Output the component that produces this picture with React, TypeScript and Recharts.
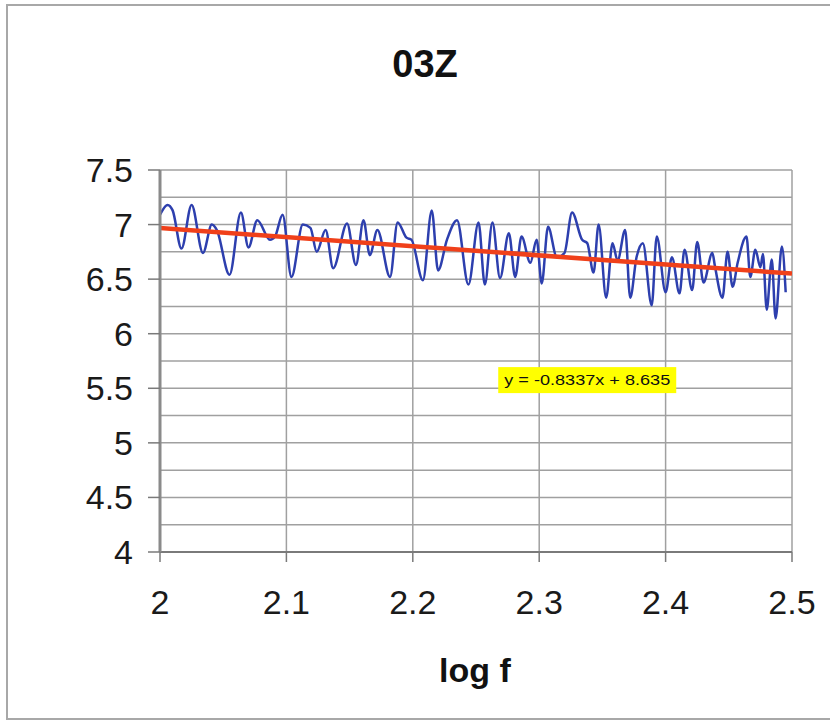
import React from "react";
import {
  ComposedChart,
  Line,
  XAxis,
  YAxis,
  CartesianGrid,
  ReferenceDot,
} from "recharts";

const logF = [
  2.0, 2.006, 2.01, 2.017, 2.025, 2.034, 2.041, 2.045, 2.055, 2.064, 2.07, 2.077,
  2.087, 2.091, 2.097, 2.104, 2.113, 2.119, 2.124, 2.131, 2.137, 2.148, 2.155,
  2.161, 2.166, 2.172, 2.182, 2.188, 2.195, 2.199, 2.208, 2.215, 2.22, 2.227,
  2.235, 2.244, 2.252, 2.257, 2.263, 2.269, 2.276, 2.281, 2.286, 2.293, 2.298,
  2.302, 2.307, 2.314, 2.32, 2.326, 2.334, 2.338, 2.343, 2.347, 2.353, 2.358,
  2.362, 2.368, 2.372, 2.377, 2.382, 2.389, 2.393, 2.4, 2.405, 2.411, 2.415,
  2.421, 2.425, 2.43, 2.437, 2.439, 2.445, 2.449, 2.453, 2.457, 2.464, 2.467,
  2.471, 2.475, 2.477, 2.48, 2.484, 2.487, 2.492, 2.495,
];

const level = [
  7.09, 7.18, 7.13, 6.78, 7.18, 6.74, 7.0, 6.95, 6.54, 7.11, 6.79, 7.04,
  6.86, 6.89, 7.09, 6.52, 7.0, 6.97, 6.75, 6.95, 6.6, 7.01, 6.63,
  7.04, 6.72, 6.95, 6.52, 7.02, 6.88, 6.86, 6.49, 7.13, 6.58, 6.86,
  7.04, 6.45, 7.02, 6.45, 7.02, 6.51, 6.92, 6.52, 6.89, 6.65, 6.86,
  6.46, 6.98, 6.7, 6.74, 7.11, 6.86, 6.83, 6.56, 7.0, 6.33, 6.83,
  6.67, 6.95, 6.33, 6.7, 6.83, 6.26, 6.89, 6.38, 6.7, 6.37, 6.77,
  6.4, 6.84, 6.47, 6.74, 6.62, 6.33, 6.75, 6.43, 6.65, 6.89, 6.52,
  6.77, 6.61, 6.73, 6.22, 6.68, 6.14, 6.8, 6.38,
];

// linear fit y = -0.8337x + 8.635 over the plotted range
const trendX = [2, 2.5];
const trendY = [6.968, 6.551];

const xTicks = [2, 2.1, 2.2, 2.3, 2.4, 2.5];
const yTicks = [4, 4.5, 5, 5.5, 6, 6.5, 7, 7.5];
const yGrid = [4, 4.25, 4.5, 4.75, 5, 5.25, 5.5, 5.75, 6, 6.25, 6.5, 6.75, 7, 7.25, 7.5];

const title = "03Z";
const xLabel = "log f";
const equation = "y = -0.8337x + 8.635";
const equationAt = { x: 2.338, y: 5.575 };

const seriesData = logF.map((x, i) => ({ x, y: level[i] }));
const trendData = trendX.map((x, i) => ({ x, y: trendY[i] }));

const font = "'Liberation Sans', Arial, sans-serif";
const tickStyle = { fontSize: 34, fill: "#1a1a1a", fontFamily: font };

function EquationBox({ cx, cy }: { cx?: number; cy?: number }) {
  if (cx == null || cy == null) return null;
  return (
    <g>
      <rect x={cx - 89} y={cy - 13} width={178} height={26} fill="#ffff00" />
      <text
        x={cx}
        y={cy + 5}
        textAnchor="middle"
        fontSize={14}
        fontFamily={font}
        fill="#111"
        textLength={166}
        lengthAdjust="spacingAndGlyphs"
      >
        {equation}
      </text>
    </g>
  );
}

export default function App() {
  return (
    <div style={{ position: "absolute", left: 0, top: 0, width: 830, height: 724, background: "#fff" }}>
      <div
        style={{
          position: "absolute",
          left: 6,
          top: 4,
          width: 840,
          height: 716,
          border: "2px solid #a8a8a8",
          boxSizing: "border-box",
        }}
      />
      <div
        style={{
          position: "absolute",
          left: 325,
          top: 45,
          width: 200,
          textAlign: "center",
          fontFamily: font,
          fontWeight: "bold",
          fontSize: 38,
          lineHeight: 1,
          color: "#111",
        }}
      >
        {title}
      </div>
      <div
        style={{
          position: "absolute",
          left: 375,
          top: 653,
          width: 200,
          textAlign: "center",
          fontFamily: font,
          fontWeight: "bold",
          fontSize: 34,
          lineHeight: 1,
          color: "#111",
        }}
      >
        {xLabel}
      </div>
      <div style={{ position: "absolute", left: 0, top: 0 }}>
        <ComposedChart
          width={830}
          height={724}
          margin={{ top: 170, right: 38, bottom: 52, left: 0 }}
        >
          <CartesianGrid
            stroke="#a0a0a0"
            strokeWidth={1.5}
            horizontalValues={yGrid}
            verticalValues={xTicks}
          />
          <XAxis
            type="number"
            dataKey="x"
            domain={[2, 2.5]}
            ticks={xTicks}
            allowDataOverflow
            height={120}
            tickSize={10}
            tickMargin={28}
            tick={tickStyle}
            axisLine={{ stroke: "#7a7a7a", strokeWidth: 2 }}
            tickLine={{ stroke: "#7a7a7a", strokeWidth: 1.5 }}
          />
          <YAxis
            type="number"
            dataKey="y"
            domain={[4, 7.5]}
            ticks={yTicks}
            allowDataOverflow
            width={160}
            tickSize={12}
            tickMargin={15}
            tick={tickStyle}
            axisLine={{ stroke: "#8a8a8a", strokeWidth: 3 }}
            tickLine={{ stroke: "#7a7a7a", strokeWidth: 1.5 }}
          />
          <Line
            data={seriesData}
            dataKey="y"
            type="monotone"
            stroke="#2d3fae"
            strokeWidth={2.5}
            dot={false}
            isAnimationActive={false}
          />
          <Line
            data={trendData}
            dataKey="y"
            type="linear"
            stroke="#f0401a"
            strokeWidth={4.5}
            dot={false}
            isAnimationActive={false}
          />
          <ReferenceDot
            x={equationAt.x}
            y={equationAt.y}
            r={0}
            shape={(p: any) => <EquationBox cx={p.cx} cy={p.cy} />}
          />
        </ComposedChart>
      </div>
    </div>
  );
}
